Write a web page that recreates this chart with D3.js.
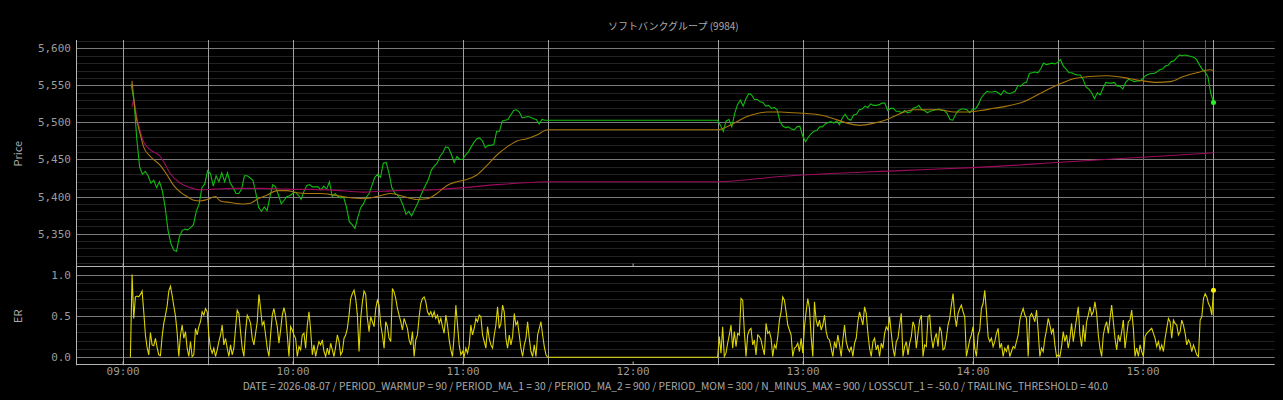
<!DOCTYPE html>
<html>
<head>
<meta charset="utf-8">
<script src="https://cdn.jsdelivr.net/npm/d3@7"></script>
<style>
  body { margin: 0; background: #000; }
  svg { display: block; }
</style>
</head>
<body>
<svg width="1283" height="400"></svg>
<script>
const title = "ソフトバンクグループ (9984)"
const footer = "DATE = 2026-08-07 / PERIOD_WARMUP = 90 / PERIOD_MA_1 = 30 / PERIOD_MA_2 = 900 / PERIOD_MOM = 300 / N_MINUS_MAX = 900 / LOSSCUT_1 = -50.0 / TRAILING_THRESHOLD = 40.0"

// price, one value per minute
const priceAmStart = "09:03"
const priceAm = [5552,5530,5478,5440,5430,5434,5428,5418,5422,5412,
  5420,5408,5386,5355,5337,5328,5326,5345,5354,5356,
  5355,5358,5362,5380,5390,5412,5417,5435,5431,5414,
  5428,5420,5432,5420,5432,5418,5412,5404,5404,5410,
  5428,5428,5425,5422,5405,5385,5380,5386,5381,5400,
  5416,5413,5402,5390,5395,5400,5401,5404,5406,5402,
  5396,5407,5415,5416,5413,5413,5413,5409,5414,5410,
  5420,5400,5404,5400,5398,5399,5386,5366,5362,5357,
  5372,5385,5390,5399,5404,5415,5426,5430,5426,5445,
  5446,5432,5412,5405,5402,5397,5388,5376,5380,5374,
  5382,5390,5399,5408,5416,5424,5436,5441,5445,5454,
  5459,5467,5466,5457,5446,5454,5450,5450,5456,5460,
  5467,5473,5478,5479,5475,5466,5469,5469,5470,5488,
  5488,5502,5503,5504,5510,5516,5517,5514,5506,5507,
  5508,5507,5505,5504,5498,5504,5503,5503]
const pricePmStart = "12:30"
const pricePm = [5503,5496,5488,5502,5504,5494,5512,5524,5530,5522,
  5532,5539,5537,5531,5531,5528,5527,5522,5523,5519,
  5520,5517,5501,5495,5493,5494,5491,5490,5494,5495,
  5482,5474,5480,5485,5488,5489,5494,5494,5498,5500,
  5501,5499,5502,5497,5506,5511,5505,5503,5510,5511,
  5517,5518,5522,5520,5525,5523,5523,5524,5526,5526,
  5516,5519,5519,5515,5515,5513,5516,5513,5514,5519,
  5520,5523,5517,5516,5513,5515,5516,5517,5518,5516,
  5516,5512,5504,5503,5511,5516,5518,5518,5517,5513,
  5518,5518,5524,5533,5538,5542,5541,5541,5542,5540,
  5537,5543,5540,5539,5540,5542,5550,5549,5553,5554,
  5566,5567,5568,5567,5572,5580,5578,5579,5580,5579,
  5581,5585,5576,5572,5567,5567,5565,5564,5564,5558,
  5548,5545,5540,5532,5540,5537,5546,5554,5553,5553,
  5554,5549,5549,5545,5554,5558,5557,5555,5556,5556,
  5559,5563,5565,5566,5566,5568,5571,5572,5576,5577,
  5582,5583,5587,5591,5590,5591,5590,5589,5588,5585,
  5578,5572,5568,5562,5540,5527]

// moving averages, minutes after 09:00
const ma1Min = [3.3,4.5,6.3,7.4,9.8,13.3,15.7,18,20.4,22.7,25.1,27.4,29.8,32.7,34.5,38,42.7,45.1,47.4,51,
  54.5,58,61.5,65.1,69.8,74.5,79.2,85.1,89.8,94.5,99.2,103.8,107.4,110.9,114.5,118,121.5,125,128.6,132.1,
  135.7,139.2,142.7,146.2,150,210,213.3,216.8,220.4,223.9,227.4,232.1,236.8,241.5,246.3,251,255.7,260.4,265.1,269.8,
  274.5,279.2,283.9,288.6,293.3,298,302.7,307.4,312.1,318,323.8,329.7,335.6,341.5,347.4,350.9,355.6,360.3,365,369.7,
  374.4,379.1,383.8,385]
const ma1 = [5556,5514,5483,5467,5454,5442,5429,5415,5406,5400,5395,5394,5396,5400,5394,5392,5390,5391,5396,5402,
  5408,5408,5405,5404,5404,5402,5399,5397,5400,5404,5400,5396,5397,5404,5415,5420,5423,5429,5442,5456,
  5467,5475,5478,5483,5490,5490,5494,5501,5508,5512,5514,5514,5513,5512,5510,5505,5499,5496,5499,5504,
  5512,5517,5517,5517,5514,5514,5516,5519,5522,5528,5539,5550,5559,5562,5563,5562,5559,5556,5554,5555,
  5562,5567,5571,5570]
const ma2Min = [3.3,3.9,5.1,6.3,7.4,9.8,13.3,14.5,16.8,20.4,23.9,27.4,32.1,39.2,48.6,58,
  73.3,85.1,96.8,108.6,120.4,132.1,143.9,150,210,232,274.5,299.8,310,329.8,359.8,385]
const ma2 = [5521,5530,5505,5487,5474,5463,5454,5447,5431,5418,5412,5409,5410,5411,5411,5410,
  5409,5406,5408,5409,5412,5416,5419,5420,5420,5427,5435,5439,5441,5446,5453,5459]

// efficiency ratio, evenly sampled between start and end
const erAmStart = "09:02:45", erAmEnd = "11:30:00"
const erAm = [0.00,1.00,0.47,0.73,0.74,0.73,0.76,0.80,0.55,0.27,
  0.12,0.03,0.30,0.15,0.14,0.23,0.12,0.03,0.02,0.25,
  0.41,0.51,0.62,0.80,0.86,0.75,0.62,0.50,0.30,0.01,
  0.27,0.39,0.23,0.31,0.11,0.01,0.19,0.01,0.03,0.35,
  0.27,0.37,0.43,0.55,0.51,0.59,0.55,0.27,0.11,0.05,
  0.11,0.01,0.09,0.19,0.27,0.39,0.15,0.23,0.11,0.01,
  0.15,0.03,0.11,0.35,0.57,0.53,0.31,0.11,0.01,0.31,
  0.51,0.47,0.41,0.23,0.15,0.29,0.43,0.76,0.59,0.39,
  0.43,0.27,0.11,0.01,0.27,0.51,0.59,0.47,0.37,0.17,
  0.33,0.51,0.60,0.51,0.27,0.01,0.37,0.33,0.27,0.23,
  0.01,0.13,0.09,0.27,0.29,0.11,0.39,0.55,0.33,0.03,
  0.15,0.01,0.11,0.19,0.15,0.21,0.07,0.01,0.11,0.03,
  0.17,0.09,0.01,0.13,0.27,0.19,0.03,0.07,0.23,0.27,
  0.35,0.51,0.71,0.77,0.81,0.71,0.51,0.07,0.47,0.67,
  0.80,0.76,0.47,0.31,0.49,0.43,0.37,0.59,0.69,0.63,
  0.39,0.27,0.11,0.43,0.37,0.23,0.19,0.83,0.79,0.71,
  0.59,0.51,0.43,0.33,0.47,0.41,0.35,0.21,0.15,0.31,
  0.01,0.21,0.27,0.49,0.65,0.71,0.73,0.67,0.55,0.51,
  0.55,0.49,0.55,0.47,0.51,0.41,0.47,0.37,0.29,0.51,
  0.39,0.21,0.09,0.01,0.27,0.63,0.39,0.15,0.03,0.07,
  0.01,0.11,0.05,0.15,0.39,0.27,0.35,0.47,0.43,0.51,
  0.49,0.27,0.19,0.11,0.37,0.23,0.15,0.11,0.27,0.39,
  0.61,0.35,0.41,0.63,0.55,0.23,0.11,0.27,0.15,0.25,
  0.53,0.39,0.43,0.27,0.11,0.01,0.15,0.23,0.43,0.23,
  0.07,0.01,0.15,0.01,0.27,0.35,0.43,0.27,0.13,0.03,
  0.00]
const erPmStart = "12:30:00", erPmEnd = "15:25:00"
const erPm = [0.00,0.25,0.05,0.37,0.01,0.05,0.17,0.27,0.39,0.11,
  0.31,0.13,0.29,0.27,0.71,0.69,0.31,0.01,0.27,0.33,
  0.35,0.15,0.21,0.03,0.27,0.25,0.21,0.11,0.03,0.41,
  0.29,0.31,0.23,0.01,0.15,0.11,0.25,0.45,0.55,0.73,
  0.69,0.55,0.39,0.33,0.27,0.01,0.11,0.13,0.17,0.07,
  0.23,0.05,0.37,0.55,0.71,0.59,0.25,0.01,0.67,0.45,
  0.37,0.45,0.33,0.39,0.51,0.31,0.23,0.21,0.11,0.01,
  0.19,0.11,0.27,0.15,0.01,0.21,0.39,0.19,0.11,0.07,
  0.13,0.01,0.17,0.23,0.43,0.55,0.47,0.39,0.61,0.53,
  0.29,0.11,0.01,0.19,0.23,0.09,0.15,0.01,0.17,0.11,
  0.29,0.37,0.33,0.49,0.29,0.11,0.01,0.19,0.23,0.39,
  0.53,0.01,0.13,0.19,0.03,0.17,0.25,0.43,0.37,0.11,
  0.29,0.45,0.51,0.01,0.15,0.13,0.49,0.51,0.25,0.11,
  0.23,0.29,0.13,0.37,0.31,0.09,0.11,0.23,0.39,0.47,
  0.63,0.77,0.51,0.37,0.53,0.59,0.63,0.55,0.49,0.01,
  0.11,0.21,0.27,0.37,0.11,0.01,0.27,0.33,0.59,0.65,
  0.81,0.55,0.25,0.19,0.23,0.13,0.19,0.29,0.35,0.11,
  0.17,0.01,0.11,0.07,0.15,0.01,0.07,0.13,0.11,0.19,
  0.27,0.45,0.53,0.59,0.51,0.47,0.01,0.49,0.53,0.49,
  0.43,0.57,0.31,0.01,0.11,0.07,0.23,0.33,0.47,0.39,
  0.29,0.35,0.15,0.01,0.03,0.01,0.13,0.31,0.19,0.27,
  0.11,0.23,0.41,0.19,0.33,0.47,0.61,0.27,0.13,0.39,
  0.19,0.43,0.51,0.61,0.51,0.55,0.67,0.53,0.27,0.11,
  0.01,0.27,0.37,0.43,0.29,0.47,0.63,0.43,0.23,0.09,
  0.27,0.19,0.31,0.45,0.11,0.27,0.43,0.45,0.57,0.35,
  0.01,0.11,0.01,0.15,0.07,0.01,0.25,0.29,0.31,0.33,
  0.35,0.29,0.23,0.13,0.19,0.09,0.15,0.07,0.23,0.35,
  0.47,0.43,0.23,0.45,0.41,0.39,0.27,0.31,0.45,0.39,
  0.29,0.15,0.21,0.17,0.07,0.15,0.09,0.03,0.01,0.45,
  0.49,0.71,0.77,0.73,0.65,0.61,0.51,0.81]

const sessionLines = ["09:00","09:30","10:00","10:30","11:00","11:30","12:30","13:00","13:30","14:00","14:30","15:00","15:25"]
const entryTime = "15:00"
const exitTime = "15:22"
const priceTicks = [5350, 5400, 5450, 5500, 5550, 5600]
const erTicks = [0.0, 0.5, 1.0]
const hourTicks = ["09:00","10:00","11:00","12:00","13:00","14:00","15:00"]

// ---------------------------------------------------------------
const day = s => {
    const [h, m, sec] = s.split(":").map(Number)
    return new Date(2026, 7, 7, h, m, sec || 0)
}
const afterOpen = min => new Date(2026, 7, 7, 9, 0, Math.round(min * 60))

const L = 76, R = 1274.7
const topY0 = 40, topY1 = 267.3, erY1 = 365.3

var x = d3.scaleTime().domain([day("08:43:33"), day("15:46:36")]).range([L, R])
var yPrice = d3.scaleLinear().domain([5304.5, 5611.2]).range([topY1, topY0])
var yEr = d3.scaleLinear().domain([-0.0964, 1.0875]).range([erY1, topY1])

var priceData = priceAm.map((v, i) => ({ t: d3.timeMinute.offset(day(priceAmStart), i), v }))
    .concat(pricePm.map((v, i) => ({ t: d3.timeMinute.offset(day(pricePmStart), i), v })))
var ma1Data = ma1.map((v, i) => ({ t: afterOpen(ma1Min[i]), v }))
var ma2Data = ma2.map((v, i) => ({ t: afterOpen(ma2Min[i]), v }))

function spread(values, start, end) {
    var ts = d3.scaleLinear().domain([0, values.length - 1]).range([+day(start), +day(end)])
    return values.map((v, i) => ({ t: new Date(ts(i)), v }))
}
var erData = spread(erAm, erAmStart, erAmEnd).concat(spread(erPm, erPmStart, erPmEnd))

var svg = d3.select("svg")
const crisp = v => Math.round(v) + 0.5

// grids
function hgrid(values, scale, color) {
    svg.append("g")
        .selectAll("line")
        .data(values)
        .join("line")
        .attr("x1", L).attr("x2", R)
        .attr("y1", d => crisp(scale(d)))
        .attr("y2", d => crisp(scale(d)))
        .attr("stroke", color)
        .attr("stroke-width", 1)
}
hgrid(d3.range(5310, 5611, 10).filter(d => d % 50 != 0), yPrice, "#222")
hgrid(d3.range(0.1, 1.0, 0.1).filter(d => Math.abs(d - 0.5) > 0.01), yEr, "#222")
hgrid(priceTicks, yPrice, "#7a7a7a")
hgrid(erTicks, yEr, "#7a7a7a")

svg.append("g")
    .selectAll("line")
    .data(sessionLines)
    .join("line")
    .attr("x1", d => crisp(x(day(d)))).attr("x2", d => crisp(x(day(d))))
    .attr("y1", topY0).attr("y2", erY1)
    .attr("stroke", "#a0a0a0")

svg.append("line")
    .attr("x1", crisp(x(day(entryTime)))).attr("x2", crisp(x(day(entryTime))))
    .attr("y1", topY0).attr("y2", topY1)
    .attr("stroke", "#c03cc0")
svg.append("line")
    .attr("x1", crisp(x(day(exitTime)))).attr("x2", crisp(x(day(exitTime))))
    .attr("y1", topY0).attr("y2", topY1)
    .attr("stroke", "#1b7ba6")

// series
var priceLine = d3.line().x(d => x(d.t)).y(d => yPrice(d.v))
var maLine = d3.line().x(d => x(d.t)).y(d => yPrice(d.v)).curve(d3.curveMonotoneX)
var erLine = d3.line().x(d => x(d.t)).y(d => yEr(d.v))

svg.append("path").datum(priceData)
    .attr("d", priceLine).attr("fill", "none")
    .attr("stroke", "#10bc10").attr("stroke-width", 1.1)
svg.append("path").datum(ma2Data)
    .attr("d", maLine).attr("fill", "none")
    .attr("stroke", "#9c0c5e").attr("stroke-width", 1.1)
svg.append("path").datum(ma1Data)
    .attr("d", maLine).attr("fill", "none")
    .attr("stroke", "#a8780c").attr("stroke-width", 1.1)
svg.append("path").datum(erData)
    .attr("d", erLine).attr("fill", "none")
    .attr("stroke", "#dcd400").attr("stroke-width", 1.1)

var lastP = priceData[priceData.length - 1]
svg.append("circle").attr("cx", x(lastP.t)).attr("cy", yPrice(lastP.v)).attr("r", 2.5).attr("fill", "#2cf02c")
var lastE = erData[erData.length - 1]
svg.append("circle").attr("cx", x(lastE.t)).attr("cy", yEr(lastE.v)).attr("r", 2.5).attr("fill", "#f4f000")

// spines
const spine = "#b4b4b4"
svg.append("line").attr("x1", L + 0.5).attr("x2", L + 0.5).attr("y1", topY0).attr("y2", erY1).attr("stroke", spine)
svg.append("line").attr("x1", L).attr("x2", R).attr("y1", crisp(topY1) - 1).attr("y2", crisp(topY1) - 1).attr("stroke", spine)
svg.append("line").attr("x1", L).attr("x2", R).attr("y1", crisp(erY1) - 1).attr("y2", crisp(erY1) - 1).attr("stroke", spine)

// axes
function styleAxis(g) {
    g.select(".domain").remove()
    g.selectAll("text")
        .attr("fill", "#9c9c9c")
        .style("font-family", "'DejaVu Sans Mono', monospace")
        .style("font-size", "11px")
    g.selectAll("line").attr("stroke", spine)
}
svg.append("g")
    .attr("transform", `translate(${L},0)`)
    .call(d3.axisLeft(yPrice).tickValues(priceTicks).tickSize(0).tickPadding(5).tickFormat(d3.format(",")))
    .call(styleAxis)
svg.append("g")
    .attr("transform", `translate(${L},0)`)
    .call(d3.axisLeft(yEr).tickValues(erTicks).tickSize(0).tickPadding(5).tickFormat(d3.format(".1f")))
    .call(styleAxis)
svg.append("g")
    .attr("transform", `translate(0,${crisp(topY1) - 1})`)
    .call(d3.axisBottom(x).tickValues(hourTicks.map(day)).tickSizeInner(-3).tickSizeOuter(0).tickFormat(""))
    .call(styleAxis)
svg.append("g")
    .attr("transform", `translate(0,${crisp(erY1) - 1})`)
    .call(d3.axisBottom(x).tickValues(hourTicks.map(day)).tickSizeInner(-3).tickSizeOuter(0).tickPadding(3).tickFormat(d3.timeFormat("%H:%M")))
    .call(styleAxis)

// labels
const sans = "'Noto Sans CJK JP', 'Noto Sans', sans-serif"
svg.append("text")
    .attr("x", (L + R) / 2 - 2).attr("y", 30)
    .attr("text-anchor", "middle")
    .attr("fill", "#aaa")
    .style("font-family", sans).style("font-size", "10px")
    .text(title)
svg.append("text")
    .attr("x", (L + R) / 2).attr("y", 389.5)
    .attr("text-anchor", "middle")
    .attr("fill", "#aaa")
    .style("font-family", sans).style("font-size", "10.25px")
    .text(footer)
svg.append("text")
    .attr("transform", `translate(22,${(topY0 + topY1) / 2}) rotate(-90)`)
    .attr("text-anchor", "middle")
    .attr("fill", "#aaa")
    .style("font-family", sans).style("font-size", "11px")
    .text("Price")
svg.append("text")
    .attr("transform", `translate(22,${(topY1 + erY1) / 2}) rotate(-90)`)
    .attr("text-anchor", "middle")
    .attr("fill", "#aaa")
    .style("font-family", sans).style("font-size", "11px")
    .text("ER")
</script>
</body>
</html>
